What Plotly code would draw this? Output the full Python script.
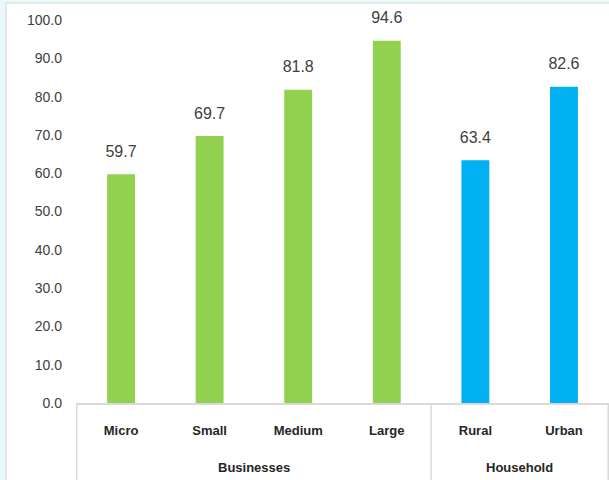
import plotly.graph_objects as go

categories = ["Micro", "Small", "Medium", "Large", "Rural", "Urban"]
values = [59.7, 69.7, 81.8, 94.6, 63.4, 82.6]
colors = ["#92D050", "#92D050", "#92D050", "#92D050", "#00B0F0", "#00B0F0"]
group_names = ["Businesses", "Household"]
group_centers = [1.5, 4.5]          # category-axis positions of group label centres
group_edges = [-0.5, 3.5, 5.5]      # category-axis positions of group dividers
y_ticks = [0, 10, 20, 30, 40, 50, 60, 70, 80, 90, 100]

W, H = 609, 480
L, R, T, B = 76, 0, 20, 77
PW, PH = W - L - R, H - T - B

fig = go.Figure()
fig.add_trace(go.Bar(
    x=categories, y=values,
    marker=dict(color=colors, line=dict(width=0)),
    hoverinfo="skip", showlegend=False,
))
fig.add_trace(go.Scatter(
    x=categories, y=values,
    mode="markers+text",
    marker=dict(size=20, opacity=0),
    text=[f"{v:.1f}" for v in values],
    textposition="top center",
    textfont=dict(family="Liberation Sans, Arial, sans-serif", size=16, color="#404040"),
    hoverinfo="skip", showlegend=False, cliponaxis=False,
))

shapes = [dict(
    type="rect", xref="paper", yref="paper",
    x0=(6 - L) / PW, x1=(W + 5 - L) / PW,
    y0=-(B + 5) / PH, y1=(PH + T - 3) / PH,
    fillcolor="white", line=dict(color="#D6D6D6", width=1), layer="below",
)]
for e in group_edges:
    shapes.append(dict(
        type="line", xref="x", yref="paper",
        x0=e, x1=e, y0=0, y1=-(B + 2) / PH,
        line=dict(color="#D9D9D9", width=1.5), layer="above",
    ))

annotations = [dict(
    x=c, y=-64 / PH, xref="x", yref="paper", text=g, showarrow=False,
    xanchor="center", yanchor="middle",
    font=dict(family="Liberation Sans, Arial, sans-serif", size=13, color="#262626", weight="bold"),
) for g, c in zip(group_names, group_centers)]

fig.update_layout(
    width=W, height=H,
    margin=dict(l=L, r=R, t=T, b=B),
    paper_bgcolor="#E9F8FA",
    plot_bgcolor="rgba(0,0,0,0)",
    bargap=0.685,
    shapes=shapes,
    annotations=annotations,
    xaxis=dict(
        type="category",
        showline=True, linecolor="#D9D9D9", linewidth=1.5,
        tickfont=dict(family="Liberation Sans, Arial, sans-serif", size=13, color="#262626", weight="bold"),
        ticklabelstandoff=15,
        showgrid=False, zeroline=False, ticks="",
    ),
    yaxis=dict(
        range=[0, 100], tickvals=y_ticks, tickformat=".1f",
        showgrid=False, zeroline=False, showline=False,
        tickfont=dict(family="Liberation Sans, Arial, sans-serif", size=14, color="#404040"),
        ticks="", ticklabelstandoff=13,
    ),
)
fig.write_html("out.html", config={"displayModeBar": False},
               post_script="document.body.style.margin='0';")
